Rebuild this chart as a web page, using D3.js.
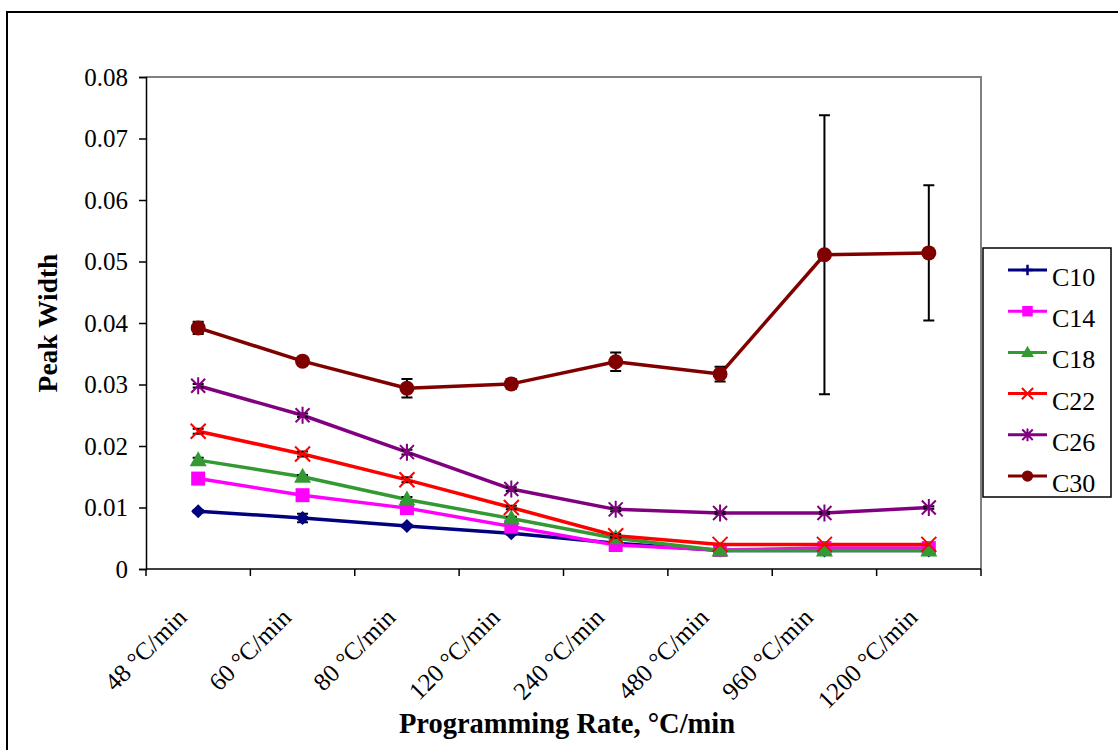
<!DOCTYPE html>
<html>
<head>
<meta charset="utf-8">
<script src="https://cdn.jsdelivr.net/npm/d3@7"></script>
<style>
  html, body { margin: 0; padding: 0; background: #fff; }
  svg { display: block; }
  svg text { font-family: "Liberation Serif", "Times New Roman", serif; }
</style>
</head>
<body>
<svg id="chart" width="1118" height="750"></svg>
<script>
// Programming rates (x categories)
const rates = ["48 °C/min", "60 °C/min", "80 °C/min", "120 °C/min", "240 °C/min", "480 °C/min", "960 °C/min", "1200 °C/min"];

// Peak widths per alkane
const c10 = [0.0094, 0.0083, 0.0070, 0.0058, 0.0042, 0.0030, 0.0030, 0.0030];
const c14 = [0.0147, 0.0120, 0.0099, 0.0069, 0.0039, 0.0031, 0.0034, 0.0034];
const c18 = [0.0177, 0.0150, 0.0113, 0.0082, 0.0050, 0.0030, 0.0030, 0.0030];
const c22 = [0.0224, 0.0187, 0.0145, 0.0100, 0.0054, 0.0040, 0.0040, 0.0040];
const c26 = [0.0298, 0.0250, 0.0190, 0.0130, 0.0097, 0.0091, 0.0091, 0.0100];
const c30 = [0.0392, 0.0338, 0.0294, 0.0301, 0.0337, 0.0317, 0.0511, 0.0514];

// Standard deviations (error bars)
const c10Err = [0.0002, 0.0007, 0.0002, 0.0002, 0, 0, 0, 0];
const c14Err = [0, 0, 0, 0, 0, 0, 0, 0];
const c18Err = [0.0004, 0.0003, 0.0004, 0.0003, 0.0003, 0, 0, 0];
const c22Err = [0.0004, 0.0004, 0.0004, 0.0003, 0.0003, 0, 0, 0];
const c26Err = [0.0003, 0.0003, 0.0004, 0.0003, 0.0003, 0.0002, 0.0002, 0.0002];
const c30Err = [0.0010, 0.0003, 0.0015, 0.0008, 0.0015, 0.0012, 0.0227, 0.0110];

const yTicks = [0, 0.01, 0.02, 0.03, 0.04, 0.05, 0.06, 0.07, 0.08];

const series = [
  { name: "C10", values: c10, err: c10Err, color: "#000080", marker: "diamond" },
  { name: "C14", values: c14, err: c14Err, color: "#FF00FF", marker: "square" },
  { name: "C18", values: c18, err: c18Err, color: "#339933", marker: "triangle" },
  { name: "C22", values: c22, err: c22Err, color: "#FF0000", marker: "cross" },
  { name: "C26", values: c26, err: c26Err, color: "#800080", marker: "star" },
  { name: "C30", values: c30, err: c30Err, color: "#800000", marker: "circle" }
];

const FONT = "'Liberation Serif', 'Times New Roman', serif";
const svg = d3.select("#chart");
const plot = { left: 146, right: 981, top: 77, bottom: 569 };

// Outer chart frame
svg.append("rect")
  .attr("x", 7).attr("y", 12).attr("width", 1130).attr("height", 760)
  .attr("fill", "#fff").attr("stroke", "#000").attr("stroke-width", 2);

const x = d3.scaleBand().domain(rates).range([plot.left, plot.right]).padding(0);
const y = d3.scaleLinear().domain([0, 0.08]).range([plot.bottom, plot.top]);

// Plot area border (top and right in gray)
svg.append("path")
  .attr("d", `M${plot.left},${plot.top}H${plot.right}V${plot.bottom}`)
  .attr("fill", "none").attr("stroke", "#808080").attr("stroke-width", 2);

// Y axis
const yAxis = d3.axisLeft(y).tickValues(yTicks).tickSizeOuter(0).tickSize(7).tickPadding(11)
  .tickFormat(d => d === 0 ? "0" : d3.format(".2f")(d));
const yg = svg.append("g").attr("transform", `translate(${plot.left},0)`).call(yAxis)
  .attr("font-family", FONT).attr("font-size", 25);
yg.select(".domain").attr("stroke", "#000").attr("stroke-width", 1.5);
yg.selectAll(".tick line").attr("stroke", "#000").attr("stroke-width", 1.5);
yg.selectAll(".tick text").attr("fill", "#000");

// X axis: line with ticks at category boundaries
const xg = svg.append("g");
xg.append("line")
  .attr("x1", plot.left).attr("x2", plot.right)
  .attr("y1", plot.bottom).attr("y2", plot.bottom)
  .attr("stroke", "#000").attr("stroke-width", 1.5);
const boundaries = rates.map(r => x(r)).concat([x(rates[rates.length - 1]) + x.bandwidth()]);
xg.selectAll("line.tick").data(boundaries).join("line")
  .attr("class", "tick")
  .attr("x1", d => d).attr("x2", d => d)
  .attr("y1", plot.bottom).attr("y2", plot.bottom + 7)
  .attr("stroke", "#000").attr("stroke-width", 1.5);
xg.selectAll("text.lbl").data(rates).join("text")
  .attr("class", "lbl")
  .attr("transform", d => `translate(${x(d) + x.bandwidth() / 2 - 10},${plot.bottom + 50}) rotate(-45)`)
  .attr("text-anchor", "end")
  .attr("font-size", 25)
  .attr("fill", "#000")
  .text(d => d);

// Axis titles
svg.append("text")
  .attr("x", 567).attr("y", 733)
  .attr("text-anchor", "middle")
  .attr("font-size", 28.5).attr("font-weight", "bold")
  .text("Programming Rate, °C/min");
svg.append("text")
  .attr("transform", `translate(57,${(plot.top + plot.bottom) / 2}) rotate(-90)`)
  .attr("text-anchor", "middle")
  .attr("font-size", 27.5).attr("font-weight", "bold")
  .text("Peak Width");

// Marker drawing
function drawMarker(g, type, color, cx, cy, scale = 1) {
  const s = scale;
  switch (type) {
    case "diamond":
      g.append("path").attr("d", `M${cx},${cy - 7 * s}L${cx + 7 * s},${cy}L${cx},${cy + 7 * s}L${cx - 7 * s},${cy}Z`)
        .attr("fill", color);
      break;
    case "plus":
      g.append("path").attr("d", `M${cx - 7 * s},${cy}H${cx + 7 * s}M${cx},${cy - 7 * s}V${cy + 7 * s}`)
        .attr("stroke", color).attr("stroke-width", 2.5);
      break;
    case "square":
      g.append("rect").attr("x", cx - 7 * s).attr("y", cy - 7 * s)
        .attr("width", 14 * s).attr("height", 14 * s).attr("fill", color);
      break;
    case "triangle":
      g.append("path").attr("d", `M${cx},${cy - 9 * s}L${cx + 8.5 * s},${cy + 6 * s}L${cx - 8.5 * s},${cy + 6 * s}Z`)
        .attr("fill", color);
      break;
    case "cross":
      g.append("path").attr("d", `M${cx - 7.5 * s},${cy - 7.5 * s}L${cx + 7.5 * s},${cy + 7.5 * s}M${cx + 7.5 * s},${cy - 7.5 * s}L${cx - 7.5 * s},${cy + 7.5 * s}`)
        .attr("stroke", color).attr("stroke-width", 2);
      break;
    case "star":
      g.append("path").attr("d", `M${cx - 7 * s},${cy - 7 * s}L${cx + 7 * s},${cy + 7 * s}M${cx + 7 * s},${cy - 7 * s}L${cx - 7 * s},${cy + 7 * s}M${cx},${cy - 8.5 * s}V${cy + 8.5 * s}`)
        .attr("stroke", color).attr("stroke-width", 2);
      break;
    case "circle":
      g.append("circle").attr("cx", cx).attr("cy", cy).attr("r", 7.5 * s).attr("fill", color);
      break;
  }
}

const cx = d => x(d) + x.bandwidth() / 2;
const line = d3.line().x(d => cx(d.rate)).y(d => y(d.v));

// Series lines, error bars and markers
series.forEach(s => {
  const pts = rates.map((r, i) => ({ rate: r, v: s.values[i], e: s.err[i] }));
  const g = svg.append("g");
  g.append("path").datum(pts).attr("d", line)
    .attr("fill", "none").attr("stroke", s.color).attr("stroke-width", 3.5)
    .attr("stroke-linejoin", "round");
  pts.forEach(p => {
    if (p.e > 0) {
      const px = cx(p.rate), y1 = y(p.v + p.e), y2 = y(p.v - p.e);
      g.append("path")
        .attr("d", `M${px},${y1}V${y2}M${px - 5.5},${y1}H${px + 5.5}M${px - 5.5},${y2}H${px + 5.5}`)
        .attr("stroke", "#000").attr("stroke-width", 2).attr("fill", "none");
    }
  });
  pts.forEach(p => drawMarker(g, s.marker, s.color, cx(p.rate), y(p.v)));
});

// Legend
const legend = svg.append("g");
legend.append("rect")
  .attr("x", 983).attr("y", 248).attr("width", 128).attr("height", 249)
  .attr("fill", "#fff").attr("stroke", "#000").attr("stroke-width", 1.5);
series.forEach((s, i) => {
  const ly = 270 + i * 41.2;
  legend.append("line")
    .attr("x1", 1008).attr("x2", 1047).attr("y1", ly).attr("y2", ly)
    .attr("stroke", s.color).attr("stroke-width", 3);
  drawMarker(legend, s.marker === "diamond" ? "plus" : s.marker, s.color, 1027.5, ly, 0.75);
  legend.append("text")
    .attr("x", 1052).attr("y", ly + 16)
    .attr("font-size", 26).attr("fill", "#000")
    .text(s.name);
});
</script>
</body>
</html>
